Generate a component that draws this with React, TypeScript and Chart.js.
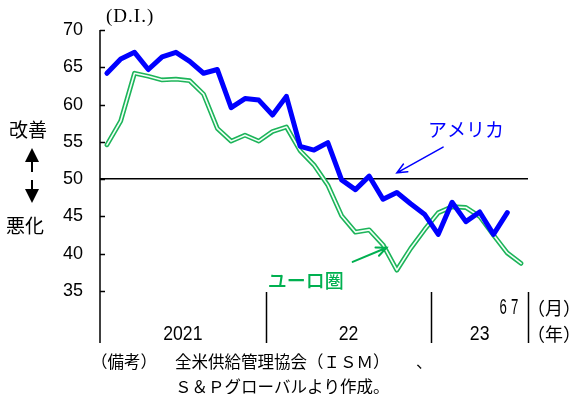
import { useEffect, useRef } from 'react';
import { Chart, registerables } from 'chart.js';

Chart.register(...registerables);

// Monthly categories, Jan 2021 – Jul 2023
const monthCategories = [
  '2021/1', '2021/2', '2021/3', '2021/4', '2021/5', '2021/6', '2021/7', '2021/8', '2021/9', '2021/10', '2021/11', '2021/12',
  '2022/1', '2022/2', '2022/3', '2022/4', '2022/5', '2022/6', '2022/7', '2022/8', '2022/9', '2022/10', '2022/11', '2022/12',
  '2023/1', '2023/2', '2023/3', '2023/4', '2023/5', '2023/6', '2023/7',
];

// Manufacturing new-orders D.I.
const usaValues = [
  64.2, 66.1, 67.0, 64.7, 66.4, 67.0, 65.8, 64.2, 64.7, 59.6, 60.8, 60.6,
  58.6, 61.1, 54.4, 53.9, 54.9, 49.9, 48.6, 50.4, 47.3, 48.2, 46.7, 45.3,
  42.6, 46.9, 44.3, 45.6, 42.6, 45.5, null,
];
const euroValues = [
  54.6, 57.8, 64.2, 63.8, 63.3, 63.4, 63.2, 61.4, 56.8, 55.1, 55.9, 55.1,
  56.4, 57.0, 53.8, 51.9, 49.2, 45.1, 42.9, 43.2, 41.2, 37.8, 40.7, 43.2,
  45.5, 46.3, 46.2, 45.0, 42.5, 40.1, 38.7,
];

// Year groups under the axis (label, first month index)
const yearLabels = ['2021', '22', '23'];
const yearStarts = [0, 12, 24];
// Month labels shown at the right end (label, month index)
const monthLabels = ['6', '7'];
const monthLabelIndex = [29, 30];

const BLUE = '#0000ff';
const GREEN = '#00b050';
const JP = '"Noto Sans CJK JP", sans-serif';
const NUM = '"Liberation Sans", Arial, sans-serif';

function drawNarrow(ctx: CanvasRenderingContext2D, text: string, x: number, y: number, font: string, sx: number, align: CanvasTextAlign) {
  ctx.save();
  ctx.translate(x, y);
  ctx.scale(sx, 1);
  ctx.font = font;
  ctx.textAlign = align;
  ctx.textBaseline = 'middle';
  ctx.fillText(text, 0, 0);
  ctx.restore();
}

function arrow(ctx: CanvasRenderingContext2D, x0: number, y0: number, x1: number, y1: number, color: string, w: number) {
  const ang = Math.atan2(y1 - y0, x1 - x0);
  const hl = 11, spread = 0.42;
  ctx.save();
  ctx.strokeStyle = color;
  ctx.lineWidth = w;
  ctx.lineCap = 'round';
  ctx.beginPath();
  ctx.moveTo(x0, y0);
  ctx.lineTo(x1, y1);
  ctx.moveTo(x1 - hl * Math.cos(ang - spread), y1 - hl * Math.sin(ang - spread));
  ctx.lineTo(x1, y1);
  ctx.lineTo(x1 - hl * Math.cos(ang + spread), y1 - hl * Math.sin(ang + spread));
  ctx.stroke();
  ctx.restore();
}

const overlay = {
  id: 'overlay',
  afterDraw(chart: any) {
    const { ctx, chartArea: a, scales } = chart;
    const xs = scales.x;
    const ys = scales.y;
    const band = xs.getPixelForValue(1) - xs.getPixelForValue(0);
    const edge = (i: number) => xs.getPixelForValue(i) - band / 2;
    const px = (i: number) => xs.getPixelForValue(0) + band * i;
    const py = (v: number) => ys.getPixelForValue(v);
    const axisBottom = a.bottom + 52;

    ctx.save();
    ctx.strokeStyle = '#000';
    ctx.fillStyle = '#000';
    ctx.lineWidth = 1.5;

    // vertical axis, extended through the date label rows
    ctx.beginPath();
    ctx.moveTo(a.left, a.top);
    ctx.lineTo(a.left, axisBottom);
    ctx.stroke();

    // inward tick marks
    ys.ticks.forEach((t: any) => {
      const y = Math.round(py(t.value)) + 0.5;
      ctx.beginPath();
      ctx.moveTo(a.left, y);
      ctx.lineTo(a.left + 5, y);
      ctx.stroke();
    });

    // year separators
    const bounds = [...yearStarts.slice(1), monthCategories.length];
    bounds.forEach((i) => {
      const x = Math.round(edge(i)) + 0.5;
      ctx.beginPath();
      ctx.moveTo(x, a.bottom + 1);
      ctx.lineTo(x, axisBottom);
      ctx.stroke();
    });

    // year labels
    yearLabels.forEach((lab, k) => {
      const from = edge(yearStarts[k]);
      const to = edge(bounds[k]);
      drawNarrow(ctx, lab, (from + to) / 2, a.bottom + 43, `21px ${NUM}`, 0.84, 'center');
    });

    // month labels at the end
    monthLabels.forEach((lab, k) => {
      const x = xs.getPixelForValue(monthLabelIndex[k]) - 4 - k * 2.5;
      drawNarrow(ctx, lab, x, a.bottom + 17, `22px ${NUM}`, 0.6, 'center');
    });

    // unit labels
    ctx.font = `18px ${JP}`;
    ctx.textAlign = 'left';
    ctx.textBaseline = 'middle';
    ctx.fillText('（月）', a.right - 1, a.bottom + 17);
    ctx.fillText('（年）', a.right - 1, a.bottom + 43);

    // (D.I.)
    ctx.font = '19px "Liberation Serif", serif';
    ctx.textBaseline = 'middle';
    (ctx as any).letterSpacing = '1px';
    ctx.fillText('(D.I.)', a.left + 6, 17);
    (ctx as any).letterSpacing = '0px';

    // improvement / deterioration guide
    ctx.font = `19px ${JP}`;
    ctx.textAlign = 'center';
    ctx.fillText('改善', 28, 130);
    ctx.fillText('悪化', 25, 226);
    const ax = 32;
    ctx.beginPath();
    ctx.moveTo(ax, 148);
    ctx.lineTo(ax - 7, 162);
    ctx.lineTo(ax + 7, 162);
    ctx.closePath();
    ctx.fill();
    ctx.fillRect(ax - 1, 161, 2, 11);
    ctx.fillRect(ax - 1, 180, 2, 10);
    ctx.beginPath();
    ctx.moveTo(ax - 7, 189);
    ctx.lineTo(ax + 7, 189);
    ctx.lineTo(ax, 203);
    ctx.closePath();
    ctx.fill();

    // series annotations
    ctx.font = `19px ${JP}`;
    ctx.textAlign = 'left';
    ctx.fillStyle = BLUE;
    ctx.fillText('アメリカ', px(23.25), py(56.6));
    arrow(ctx, px(24.35), py(54.3), px(21.0), py(50.85), BLUE, 1.5);

    ctx.font = `500 19px ${JP}`;
    ctx.fillStyle = GREEN;
    ctx.fillText('ユーロ圏', px(11.65), py(36.4));
    arrow(ctx, px(17.8), py(38.9), px(20.25), py(40.8), GREEN, 2);

    // notes
    ctx.fillStyle = '#000';
    ctx.font = `16.5px ${JP}`;
    ctx.textAlign = 'left';
    ctx.fillText('（備考）', 91, 362);
    ctx.fillText('全米供給管理協会（ＩＳＭ）', 175, 362);
    ctx.fillText('、', 416, 362);
    ctx.fillText('Ｓ＆Ｐグローバルより作成。', 175, 387);

    ctx.restore();
  },
};

export default function App() {
  const ref = useRef<HTMLCanvasElement | null>(null);

  useEffect(() => {
    if (!ref.current) return;
    const chart = new Chart(ref.current, {
      type: 'line',
      data: {
        labels: monthCategories,
        datasets: [
          {
            label: 'アメリカ',
            data: usaValues,
            borderColor: BLUE,
            borderWidth: 5,
            pointRadius: 0,
            borderJoinStyle: 'round',
            borderCapStyle: 'round',
            tension: 0,
            order: 0,
          },
          {
            label: 'ユーロ圏',
            data: euroValues,
            borderColor: '#f4fff8',
            borderWidth: 1.6,
            pointRadius: 0,
            borderJoinStyle: 'round',
            borderCapStyle: 'round',
            tension: 0,
            order: 1,
          },
          {
            label: 'ユーロ圏 outline',
            data: euroValues,
            borderColor: '#1db45a',
            borderWidth: 4.8,
            pointRadius: 0,
            borderJoinStyle: 'round',
            borderCapStyle: 'round',
            tension: 0,
            order: 2,
          },
        ],
      },
      options: {
        responsive: false,
        animation: false,
        events: [],
        layout: { padding: { top: 30, bottom: 103, left: 0, right: 44 } },
        plugins: { legend: { display: false }, tooltip: { enabled: false } },
        scales: {
          x: { type: 'category', display: false, offset: true },
          y: {
            min: 35,
            max: 70,
            ticks: {
              stepSize: 5,
              color: '#000',
              padding: 17,
              font: { family: NUM, size: 18 },
            },
            grid: {
              drawTicks: false,
              lineWidth: 1.5,
              color: (c: any) => (c.tick && c.tick.value === 50 ? '#000' : 'rgba(0,0,0,0)'),
            },
            border: { display: false },
            afterFit: (s: any) => {
              s.width = 100;
            },
          },
        },
      },
      plugins: [overlay],
    });
    return () => chart.destroy();
  }, []);

  return (
    <canvas
      ref={ref}
      width={572}
      height={394}
      style={{ position: 'fixed', left: 0, top: 0, background: '#fff' }}
    />
  );
}
